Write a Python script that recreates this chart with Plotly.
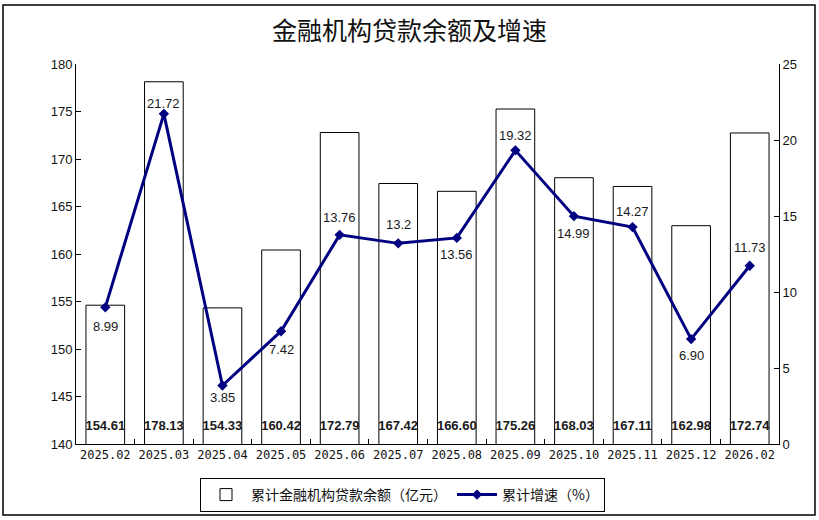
import plotly.graph_objects as go

categories = ["2025.02", "2025.03", "2025.04", "2025.05", "2025.06", "2025.07",
              "2025.08", "2025.09", "2025.10", "2025.11", "2025.12", "2026.02"]
balance = [154.61, 178.13, 154.33, 160.42, 172.79, 167.42,
           166.60, 175.26, 168.03, 167.11, 162.98, 172.74]
growth = [8.99, 21.72, 3.85, 7.42, 13.76, 13.2,
          13.56, 19.32, 14.99, 14.27, 6.90, 11.73]
growth_text = ["8.99", "21.72", "3.85", "7.42", "13.76", "13.2",
               "13.56", "19.32", "14.99", "14.27", "6.90", "11.73"]
# vertical pixel offsets of the growth labels (positive = above the point)
growth_label_shift = [-19, 10, -12, -18, 17, 19, -17, 15, -17, 16, -16, 18]
left_ticks = [140, 145, 150, 155, 160, 165, 170, 175, 180]
right_ticks = [0, 5, 10, 15, 20, 25]

W, H = 819, 520
L, R, T, B = 76, 40, 64, 76
pw, ph = W - L - R, H - T - B

def px(x):
    return (x - L) / pw

def py(y):
    return (H - B - y) / ph

fig = go.Figure()
fig.add_trace(go.Bar(
    x=categories, y=balance, name="累计金融机构贷款余额（亿元）",
    marker=dict(color="white", line=dict(color="black", width=1)),
    width=0.66, yaxis="y", hoverinfo="x+y",
))
fig.add_trace(go.Scatter(
    x=categories, y=[141.8] * len(categories),
    text=[f"{v:.2f}" for v in balance], mode="text",
    textfont=dict(family="Liberation Sans, Arial", size=13, color="#1a1a1a", weight="bold"),
    showlegend=False, hoverinfo="skip", yaxis="y",
))
fig.add_trace(go.Scatter(
    x=categories, y=growth, name="累计增速（%）", yaxis="y2",
    mode="lines+markers",
    line=dict(color="#000080", width=3),
    marker=dict(symbol="diamond", size=8, color="#000080"),
))

for i, (g, t, s) in enumerate(zip(growth, growth_text, growth_label_shift)):
    fig.add_annotation(x=i, y=g, xref="x", yref="y2", text=t, showarrow=False,
                       yshift=s, font=dict(family="Liberation Sans, Arial", size=13,
                                           color="#1a1a1a"))

fig.update_layout(
    width=W, height=H,
    margin=dict(l=L, r=R, t=T, b=B, autoexpand=False),
    paper_bgcolor="white", plot_bgcolor="white",
    title=dict(text="金融机构贷款余额及增速", x=0.5, xanchor="center",
               y=1 - 31 / H, yanchor="middle",
               font=dict(family="Noto Sans CJK SC", size=25, color="#111")),
    xaxis=dict(type="category", showline=True, linecolor="black", linewidth=1,
               automargin=False,
               range=[-0.5, len(categories) - 0.5],
               ticks="inside", tickson="boundaries", ticklen=5, tickcolor="black",
               tickangle=0,
               tickfont=dict(family="DejaVu Sans Mono", size=12, color="#111"),
               showgrid=False, zeroline=False),
    yaxis=dict(range=[140, 180], tickvals=left_ticks, showline=True, linecolor="black",
               linewidth=1, ticks="inside", ticklen=5, tickcolor="black", automargin=False,
               tickfont=dict(family="Liberation Sans, Arial", size=13, color="#111"),
               showgrid=False, zeroline=False),
    yaxis2=dict(range=[0, 25], tickvals=right_ticks, overlaying="y", side="right",
                showline=True, linecolor="black", linewidth=1, ticks="inside", ticklen=5,
                tickcolor="black", automargin=False,
                tickfont=dict(family="Liberation Sans, Arial", size=13, color="#111"),
                showgrid=False, zeroline=False),
    legend=dict(orientation="h", x=px(200), xanchor="left", y=py(478), yanchor="top",
                bordercolor="black", borderwidth=1, bgcolor="white",
                font=dict(family="Noto Sans CJK SC", size=14, color="#111"),
                itemwidth=40, tracegroupgap=0),
    showlegend=True,
    bargap=0.34,
)

fig.add_shape(type="rect", xref="paper", yref="paper",
              x0=px(3), x1=px(815), y0=py(515), y1=py(5),
              line=dict(color="black", width=1.5), fillcolor="rgba(0,0,0,0)", layer="below")

fig.write_html("out.html", config={"displayModeBar": False},
               post_script="document.body.style.margin='0';")
